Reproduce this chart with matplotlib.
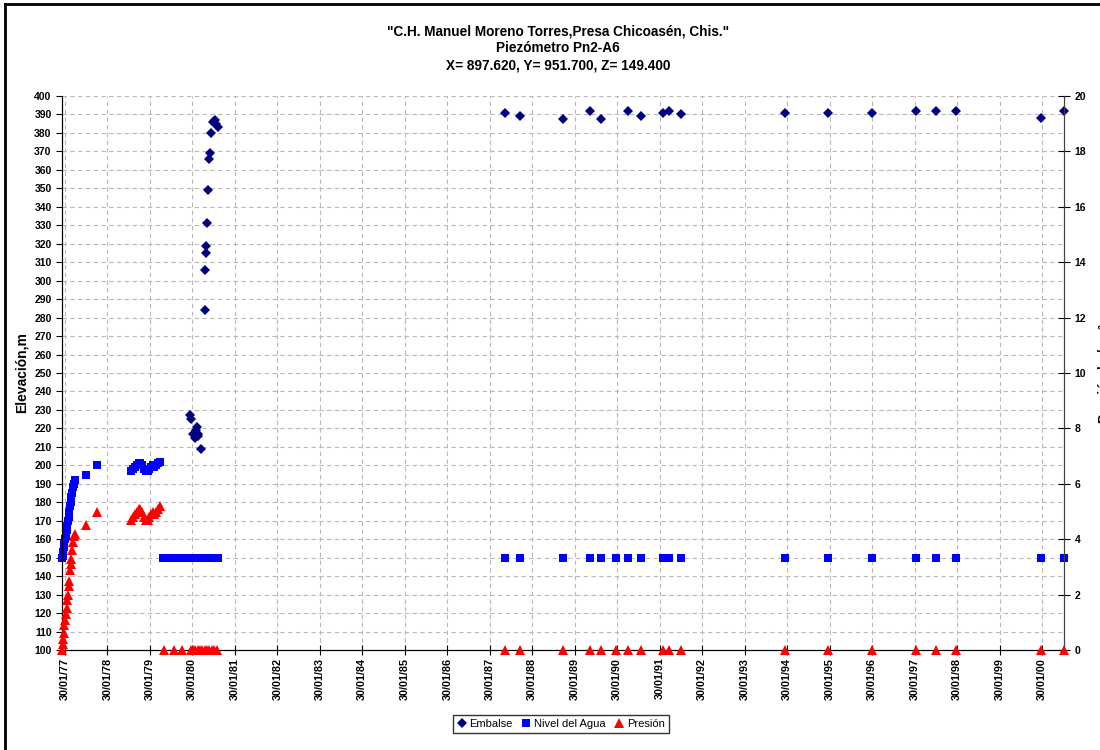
import matplotlib
matplotlib.use("Agg")
import matplotlib.pyplot as plt
import matplotlib.dates as mdates
from matplotlib.lines import Line2D
import datetime as dt

plt.rcParams['font.family'] = ['Liberation Sans', 'DejaVu Sans']

def D(s):
    return dt.datetime.strptime(s, "%Y-%m-%d")

# ---------------- data ----------------
embalse_dates = [
    "1980-01-08", "1980-01-15", "1980-02-05", "1980-02-20", "1980-03-01", "1980-03-08",
    "1980-03-15", "1980-03-22", "1980-04-10",
    "1980-05-15", "1980-05-22", "1980-05-28", "1980-05-30", "1980-06-08", "1980-06-12",
    "1980-06-18", "1980-06-28", "1980-07-10", "1980-07-25", "1980-08-10", "1980-08-20",
    "1980-09-05",
    "1987-06-10", "1987-10-15", "1988-10-20", "1989-06-10", "1989-09-12", "1990-05-01",
    "1990-08-22", "1991-03-01", "1991-04-20", "1991-07-31", "1994-01-12", "1995-01-15",
    "1996-01-30", "1997-02-10", "1997-07-30", "1998-01-20", "2000-01-22", "2000-08-05",
]
embalse_vals = [
    227, 225, 217, 215, 219, 221, 216, 217, 209,
    284, 306, 315, 319, 331, 349, 366, 369, 380, 386, 387, 385, 383,
    391, 389, 387.5, 392, 387.5, 392, 389, 391, 392, 390, 391, 391,
    391, 392, 392, 392, 388, 392,
]

nivel_dates = [
    "1977-01-05", "1977-01-10", "1977-01-15", "1977-01-20", "1977-01-26", "1977-02-01",
    "1977-02-07", "1977-02-13", "1977-02-19", "1977-02-25", "1977-03-03", "1977-03-09",
    "1977-03-15", "1977-03-21", "1977-03-27", "1977-04-03", "1977-04-10", "1977-04-17",
    "1977-04-25", "1977-07-28", "1977-10-30",
    "1978-08-25", "1978-09-10", "1978-09-25", "1978-10-10", "1978-10-25", "1978-11-10",
    "1978-11-25", "1978-12-10", "1978-12-25", "1979-01-10", "1979-01-25", "1979-02-10",
    "1979-02-25", "1979-03-10", "1979-03-25", "1979-04-10", "1979-04-25",
    "1979-05-20", "1979-06-20", "1979-07-20", "1979-08-20", "1979-09-20", "1979-10-20",
    "1979-11-25", "1980-01-05", "1980-02-05", "1980-03-05", "1980-04-05", "1980-05-05",
    "1980-06-05", "1980-07-05", "1980-08-05", "1980-09-10",
    "1987-06-10", "1987-10-15", "1988-10-20", "1989-06-10", "1989-09-12", "1990-01-20",
    "1990-05-01", "1990-08-22", "1991-03-01", "1991-04-20", "1991-07-31", "1994-01-12",
    "1995-01-15", "1996-01-30", "1997-02-10", "1997-07-30", "1998-01-20", "2000-01-22",
    "2000-08-05",
]
nivel_vals = [
    150, 151, 153, 156, 158, 160, 162, 165, 167, 170, 172, 175, 178, 180, 183, 185,
    188, 190, 192, 195, 200,
    197, 198, 199, 200, 201, 201, 200, 198, 197, 197, 198, 199, 200, 199, 200, 201, 202,
    150, 150, 150, 150, 150, 150, 150, 150, 150, 150, 150, 150, 150, 150, 150, 150,
    150, 150, 150, 150, 150, 150, 150, 150, 150, 150, 150, 150, 150, 150, 150, 150,
    150, 150, 150,
]

presion_dates = [
    "1977-01-05", "1977-01-10", "1977-01-15", "1977-01-20", "1977-01-26", "1977-02-01",
    "1977-02-07", "1977-02-13", "1977-02-19", "1977-02-25", "1977-03-03", "1977-03-09",
    "1977-03-15", "1977-03-21", "1977-03-27", "1977-04-03", "1977-04-10", "1977-04-17",
    "1977-04-25", "1977-07-28", "1977-10-30",
    "1978-08-25", "1978-09-10", "1978-09-25", "1978-10-10", "1978-10-25", "1978-11-10",
    "1978-11-25", "1978-12-10", "1978-12-25", "1979-01-10", "1979-01-25", "1979-02-10",
    "1979-02-25", "1979-03-10", "1979-03-25", "1979-04-10", "1979-04-25",
    "1979-06-05", "1979-08-25", "1979-10-30", "1980-01-15", "1980-02-05", "1980-02-25",
    "1980-03-15", "1980-04-05", "1980-04-25", "1980-05-15", "1980-06-05", "1980-06-25",
    "1980-07-15", "1980-08-05", "1980-08-30",
    "1987-06-10", "1987-10-15", "1988-10-20", "1989-06-10", "1989-09-12", "1990-01-20",
    "1990-05-01", "1990-08-22", "1991-03-01", "1991-04-20", "1991-07-31", "1994-01-12",
    "1995-01-15", "1996-01-30", "1997-02-10", "1997-07-30", "1998-01-20", "2000-01-22",
    "2000-08-05",
]
presion_vals = [
    0.0, 0.2, 0.4, 0.6, 0.9, 1.1, 1.3, 1.5, 1.8, 2.0, 2.3, 2.5, 2.9, 3.1, 3.3, 3.6,
    3.9, 4.1, 4.2, 4.5, 5.0,
    4.7, 4.8, 4.9, 5.0, 5.1, 5.1, 5.0, 4.8, 4.7, 4.7, 4.8, 4.9, 5.0, 4.9, 5.0, 5.1, 5.2,
    0, 0, 0, 0, 0, 0, 0, 0, 0, 0, 0, 0, 0, 0, 0,
    0, 0, 0, 0, 0, 0, 0, 0, 0, 0, 0, 0, 0, 0, 0, 0, 0, 0, 0,
]

year_ticks = [dt.datetime(y, 1, 30) for y in range(1977, 2001)]
title_lines = ['"C.H. Manuel Moreno Torres,Presa Chicoasén, Chis."',
               'Piezómetro Pn2-A6',
               'X= 897.620, Y= 951.700, Z= 149.400']

# ---------------- figure ----------------
fig = plt.figure(figsize=(11, 7.5), dpi=100)
ax = fig.add_axes([62 / 1100, 1 - 650 / 750, (1064 - 62) / 1100, (650 - 96) / 750])
ax2 = ax.twinx()

ax.set_xlim(D("1977-01-05"), D("2000-08-05"))
ax.set_ylim(100, 400)
ax.set_yticks(range(100, 401, 10))
ax2.set_ylim(0, 20)
ax2.set_yticks(range(0, 21, 2))

ax.set_xticks(year_ticks)
ax.xaxis.set_major_formatter(mdates.DateFormatter("%d/%m/%y"))
for lbl in ax.get_xticklabels():
    lbl.set_rotation(90)

grid_kw = dict(color="#b8b8b8", linestyle=(0, (4, 3)), linewidth=0.8)
ax.grid(True, axis="both", **grid_kw)
ax.set_axisbelow(True)

ax.tick_params(axis="y", direction="out", length=4, labelsize=7.5, width=0.8)
ax.tick_params(axis="x", direction="inout", length=7, labelsize=7.8, width=0.8, pad=2)
ax2.tick_params(axis="y", direction="inout", length=8, labelsize=7.5, width=0.8)
for lbl in ax.get_xticklabels() + ax.get_yticklabels() + ax2.get_yticklabels():
    lbl.set_fontweight("bold")

for a in (ax, ax2):
    a.spines["top"].set_visible(False)
    a.spines["left"].set_color("black")
    a.spines["bottom"].set_color("black")
    a.spines["right"].set_color("#404040")

ed = [D(s) for s in embalse_dates]
nd = [D(s) for s in nivel_dates]
pd_ = [D(s) for s in presion_dates]

ax.plot(ed, embalse_vals, linestyle="none", marker="D", ms=5.5, color="#000080",
        markeredgewidth=0, label="Embalse", clip_on=False, zorder=3)
ax.plot(nd, nivel_vals, linestyle="none", marker="s", ms=5.8, color="#0000FF",
        markeredgewidth=0, label="Nivel del Agua", clip_on=False, zorder=3)
ax2.plot(pd_, presion_vals, linestyle="none", marker="^", ms=6.5, color="#FF0000",
         markeredgewidth=0, label="Presión", clip_on=False, zorder=3)

ax.set_ylabel("Elevación,m", fontsize=10, fontweight="bold", labelpad=4)

fig.text(558 / 1100, 1 - 31 / 750, title_lines[0], ha="center", va="center",
         fontsize=9.8, fontweight="bold")
fig.text(558 / 1100, 1 - 48 / 750, title_lines[1], ha="center", va="center",
         fontsize=9.8, fontweight="bold")
fig.text(558 / 1100, 1 - 65 / 750, title_lines[2], ha="center", va="center",
         fontsize=9.8, fontweight="bold")

fig.text(1104 / 1100, 0.503, "Presión,kg/cm²", rotation=90, ha="center", va="center",
         fontsize=10, fontweight="bold")

h1, l1 = ax.get_legend_handles_labels()
h2, l2 = ax2.get_legend_handles_labels()
leg = fig.legend(h1 + h2, l1 + l2, loc="center", bbox_to_anchor=(561 / 1100, 1 - 724 / 750),
                 ncol=3, fontsize=8, frameon=True, fancybox=False, handlelength=0.8,
                 handletextpad=0.3, columnspacing=0.8, borderpad=0.35)
leg.get_frame().set_edgecolor("black")
leg.get_frame().set_linewidth(1.0)

# outer chart border (left and top visible)
fig.add_artist(Line2D([5 / 1100, 5 / 1100], [0, 1 - 4 / 750], transform=fig.transFigure,
                      color="black", linewidth=2))
fig.add_artist(Line2D([5 / 1100, 1.0], [1 - 4 / 750, 1 - 4 / 750], transform=fig.transFigure,
                      color="black", linewidth=2))

fig.savefig("out.png", dpi=100)
